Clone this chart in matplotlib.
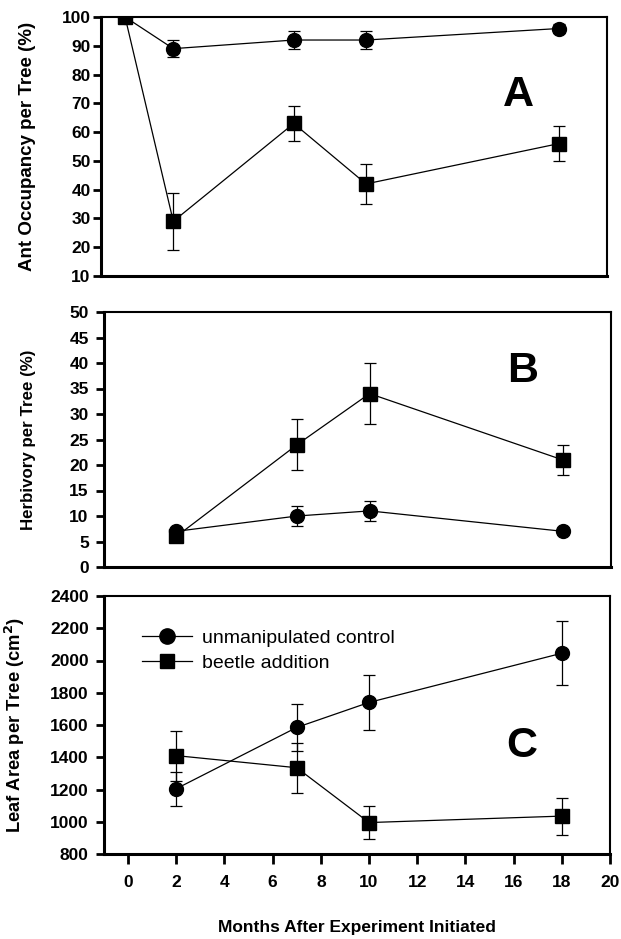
import matplotlib
matplotlib.use("Agg")
import matplotlib.pyplot as plt
from matplotlib.lines import Line2D

plt.rcParams['font.family'] = ['Liberation Sans', 'DejaVu Sans']

# ---- data ----
months_a = [0, 2, 7, 10, 18]
occ_control = [100, 89, 92, 92, 96]
occ_control_err = [0, 3, 3, 3, 1.5]
occ_beetle = [100, 29, 63, 42, 56]
occ_beetle_err = [0, 10, 6, 7, 6]

months = [2, 7, 10, 18]
herb_control = [7, 10, 11, 7]
herb_control_err = [0.5, 2, 2, 0.5]
herb_beetle = [6, 24, 34, 21]
herb_beetle_err = [0.5, 5, 6, 3]

leaf_control = [1205, 1585, 1740, 2045]
leaf_control_err = [105, 145, 170, 200]
leaf_beetle = [1410, 1335, 995, 1035]
leaf_beetle_err = [155, 155, 105, 115]

xticks = [0, 2, 4, 6, 8, 10, 12, 14, 16, 18, 20]
legend_labels = ["unmanipulated control", "beetle addition"]

W, H = 621, 939
fig = plt.figure(figsize=(W / 100, H / 100), dpi=100)

def ax_px(left, right, top, bottom):
    return fig.add_axes([left / W, 1 - bottom / H, (right - left) / W, (bottom - top) / H])

axA = ax_px(101, 607, 17, 276)
axB = ax_px(104, 611, 312, 567)
axC = ax_px(104, 610, 596, 854)

line_kw = dict(color='black', lw=0.9, elinewidth=0.9, capsize=4, capthick=0.9, markersize=10,
               markerfacecolor='black', markeredgecolor='black')

def style(ax, ylim, yticks, ylabel, label_fs, letter, letter_y, pad, show_x):
    ax.set_xlim(-1, 20)
    ax.set_ylim(*ylim)
    ax.set_yticks(yticks)
    ax.set_yticklabels([str(v) for v in yticks], fontweight='bold', fontsize=12.5)
    for side in ['left', 'bottom']:
        ax.spines[side].set_linewidth(2.2)
    for side in ['top', 'right']:
        ax.spines[side].set_linewidth(1.5)
    ax.tick_params(axis='y', direction='out', length=6, width=2, pad=pad)
    if show_x:
        ax.set_xticks(xticks)
        ax.set_xticklabels([str(v) for v in xticks], fontweight='bold', fontsize=12.5)
        ax.tick_params(axis='x', direction='out', length=7, width=2, pad=8)
    else:
        ax.set_xticks([])
    ax.set_ylabel(ylabel, fontweight='bold', fontsize=label_fs)
    ax.text(0.825, letter_y, letter, transform=ax.transAxes, fontsize=31, fontweight='bold',
            ha='center', va='center')

# Panel A
axA.errorbar(months_a, occ_control, yerr=occ_control_err, marker='o', **line_kw)
axA.errorbar(months_a, occ_beetle, yerr=occ_beetle_err, marker='s', **line_kw)
style(axA, (10, 100), list(range(10, 101, 10)), "Ant Occupancy per Tree (%)", 13.5, "A", 0.70, 1.5, False)
axA.yaxis.set_label_coords(-0.128, 0.5)

# Panel B
axB.errorbar(months, herb_control, yerr=herb_control_err, marker='o', **line_kw)
axB.errorbar(months, herb_beetle, yerr=herb_beetle_err, marker='s', **line_kw)
style(axB, (0, 50), list(range(0, 51, 5)), "Herbivory per Tree (%)", 12.2, "B", 0.77, 5, False)
axB.yaxis.set_label_coords(-0.135, 0.5)

# Panel C
axC.errorbar(months, leaf_control, yerr=leaf_control_err, marker='o', **line_kw)
axC.errorbar(months, leaf_beetle, yerr=leaf_beetle_err, marker='s', **line_kw)
style(axC, (800, 2400), list(range(800, 2401, 200)), "Leaf Area per Tree (cm$^\\mathbf{2}$)", 13.2, "C", 0.42, 5, True)
axC.yaxis.set_label_coords(-0.152, 0.5)
axC.set_xlabel("Months After Experiment Initiated", fontweight='bold', fontsize=12.5, labelpad=22)

handles = [Line2D([], [], color='black', lw=0.9, marker='o', markersize=11),
           Line2D([], [], color='black', lw=0.9, marker='s', markersize=10)]
axC.legend(handles, legend_labels, loc='upper left', bbox_to_anchor=(0.04, 0.94), frameon=False,
           fontsize=14, handlelength=2.6, handletextpad=0.5, labelspacing=0.4)

fig.savefig("out.png", dpi=100)
